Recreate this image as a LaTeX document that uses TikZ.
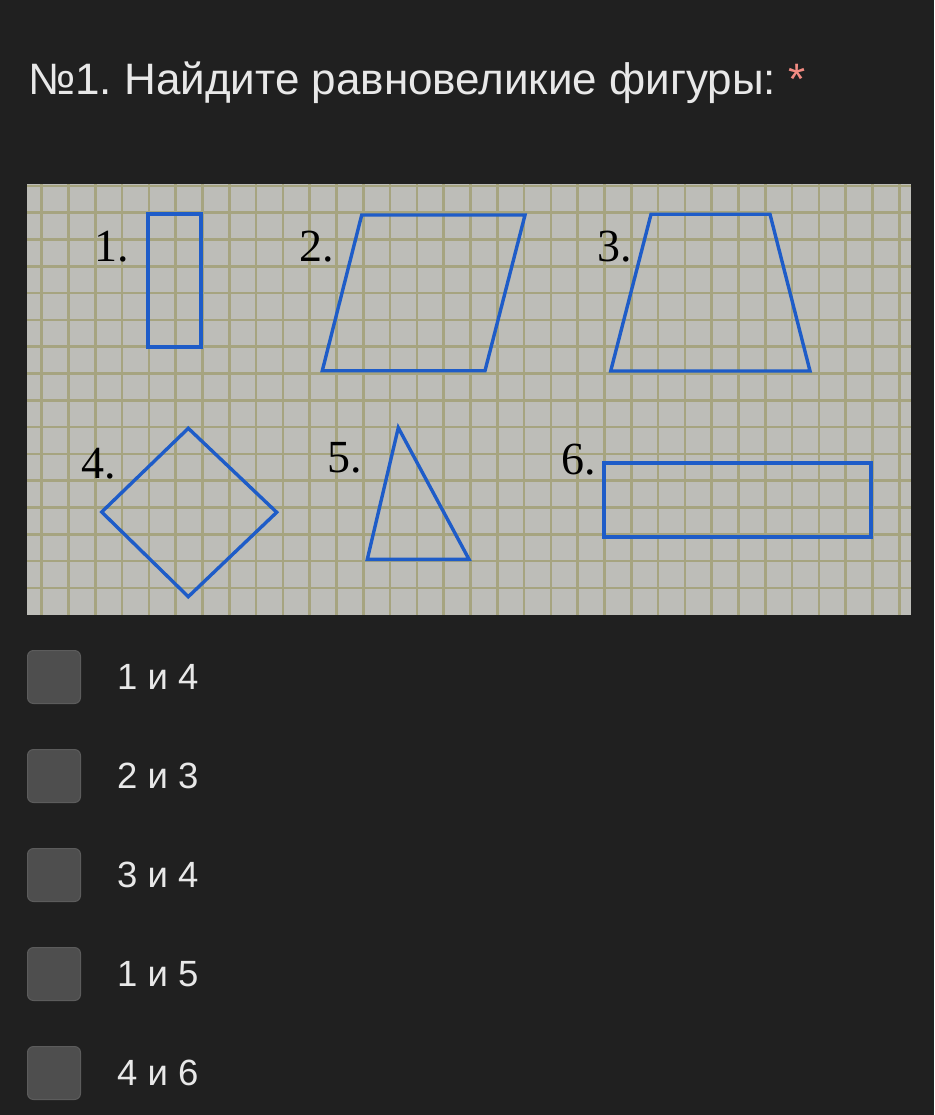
\documentclass[tikz,border=0pt]{standalone}
\usepackage{fontspec}
\usetikzlibrary{positioning}
\newfontfamily\uifont{Liberation Sans}
\newfontfamily\numfont{Liberation Serif}
\definecolor{pagebg}{RGB}{32,32,32}
\definecolor{paper}{RGB}{189,189,184}
\definecolor{gridline}{RGB}{166,164,128}
\definecolor{figblue}{RGB}{30,92,200}
\definecolor{boxgray}{RGB}{78,78,78}
\definecolor{boxedge}{RGB}{92,92,92}
\definecolor{uitext}{RGB}{232,232,232}
\definecolor{star}{RGB}{242,139,130}
\frenchspacing

\begin{document}
\begin{tikzpicture}[x=1pt, y=-1pt,
  fig/.style={figblue, line width=3.4pt, line join=miter},
  lbl/.style={font=\numfont\fontsize{46}{46}\selectfont, anchor=base west, inner sep=0pt},
  tick/.style={draw=boxedge, fill=boxgray, line width=1pt, rounded corners=6pt, minimum size=53pt, inner sep=0pt},
  opt/.style={font=\uifont\fontsize{36.5}{36.5}\selectfont, text=uitext, inner sep=0pt, anchor=west},
  node distance=36pt]
  \useasboundingbox (0,0) rectangle (934,1115);
  \fill[pagebg] (0,0) rectangle (934,1115);

  % title
  \node[font=\uifont\fontsize{44}{44}\selectfont, text=uitext, anchor=base west, inner sep=0pt] (title) at (28,95)
    {№1. Найдите равновеликие фигуры: \textcolor{star}{*}};

  % squared paper
  \fill[paper] (27,184.3) rectangle (910.7,615);
  \foreach \k in {0,...,32}
    \draw[gridline, line width=2.6pt] ({41.7+\k*26.8},184.3) -- ({41.7+\k*26.8},615);
  \foreach \k in {0,...,15}
    \draw[gridline, line width=2.6pt] (27,{185.9+\k*26.8}) -- (910.7,{185.9+\k*26.8});

  % figures
  \draw[fig] (148,214) rectangle (201,347);
  \draw[fig] (361.7,215) -- (525,215) -- (485,370.7) -- (322.3,370.7) -- cycle;
  \draw[fig] (651,214.3) -- (770,214.3) -- (810,371) -- (610.7,371) -- cycle;
  \draw[fig] (188.3,428.3) -- (276.7,512.3) -- (188.3,596.7) -- (101.7,512) -- cycle;
  \draw[fig] (398.3,427.7) -- (469,559.3) -- (367.3,559.3) -- cycle;
  \draw[fig] (604,463) rectangle (871,537);

  \node[lbl] (n1) at (94,261) {1.};
  \node[lbl] (n2) at (299,261) {2.};
  \node[lbl] (n3) at (597,261) {3.};
  \node[lbl] (n4) at (81,478) {4.};
  \node[lbl] (n5) at (327,472) {5.};
  \node[lbl] (n6) at (561,474) {6.};

  % answers
  \node[tick] (c1) at (54,677) {};
  \node[tick] (c2) at (54,776) {};
  \node[tick] (c3) at (54,875) {};
  \node[tick] (c4) at (54,974) {};
  \node[tick] (c5) at (54,1073) {};
  \node[opt, right=of c1] (o1) {1 и 4};
  \node[opt, right=of c2] (o2) {2 и 3};
  \node[opt, right=of c3] (o3) {3 и 4};
  \node[opt, right=of c4] (o4) {1 и 5};
  \node[opt, right=of c5] (o5) {4 и 6};
\end{tikzpicture}
\end{document}
